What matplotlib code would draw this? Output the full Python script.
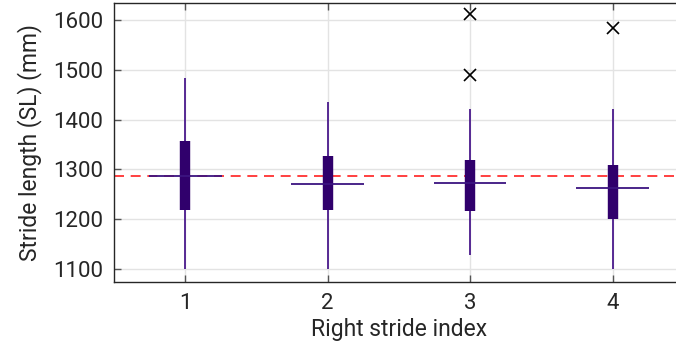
import matplotlib
matplotlib.use('Agg')
import matplotlib.pyplot as plt

# stride length statistics per right stride (mm)
stride_idx = [1, 2, 3, 4]
q1 = [1219, 1219, 1216, 1200]
q3 = [1357, 1327, 1318, 1308]
medians = [1287, 1270, 1273, 1262]
whisk_lo = [1100, 1100, 1128, 1100]
whisk_hi = [1483, 1436, 1422, 1422]
outlier_x = [3, 3, 4]
outlier_y = [1612, 1489, 1584]
mean_sl = 1287

box_col = '#30006c'
whisk_col = '#4a1a8c'

plt.rcParams['font.family'] = ['Roboto', 'DejaVu Sans']

fig = plt.figure(figsize=(6.76, 3.48), dpi=100)
ax = fig.add_axes([0.1686, 0.1897, 0.843, 0.8017])

ax.grid(True, color='#e3e3e3', linewidth=1, zorder=0)
ax.set_axisbelow(True)

ax.axhline(mean_sl, color='#ff2020', linestyle=(0, (6, 4)), linewidth=1.2, zorder=1)

ax.vlines(stride_idx, whisk_lo, whisk_hi, color=whisk_col, linewidth=1.3, zorder=2)
ax.vlines(stride_idx, q1, q3, color=box_col, linewidth=7.5, zorder=3)
ax.hlines(medians, [x - 0.255 for x in stride_idx], [x + 0.255 for x in stride_idx],
          color='#3c1480', linewidth=1.3, zorder=4)
ax.plot(outlier_x, outlier_y, 'x', color='black', markersize=9, markeredgewidth=1.2,
        linestyle='None', zorder=5, clip_on=False)

ax.set_xlim(0.5, 4.5)
ax.set_ylim(1074, 1634)
ax.set_xticks(stride_idx)
ax.set_yticks([1100, 1200, 1300, 1400, 1500, 1600])
ax.tick_params(direction='in', length=5, width=1, color='#555555',
               labelsize=16, labelcolor='#262626', top=True, pad=8)
for s in ['left', 'bottom', 'top']:
    ax.spines[s].set_color('#262626')
    ax.spines[s].set_linewidth(1)
ax.spines['right'].set_visible(False)

ax.set_xlabel('Right stride index', fontsize=16.5, color='#262626', labelpad=3)
ax.set_ylabel('Stride length (SL) (mm)', fontsize=16.5, color='#262626', labelpad=8)

fig.savefig('out.png', dpi=100)
